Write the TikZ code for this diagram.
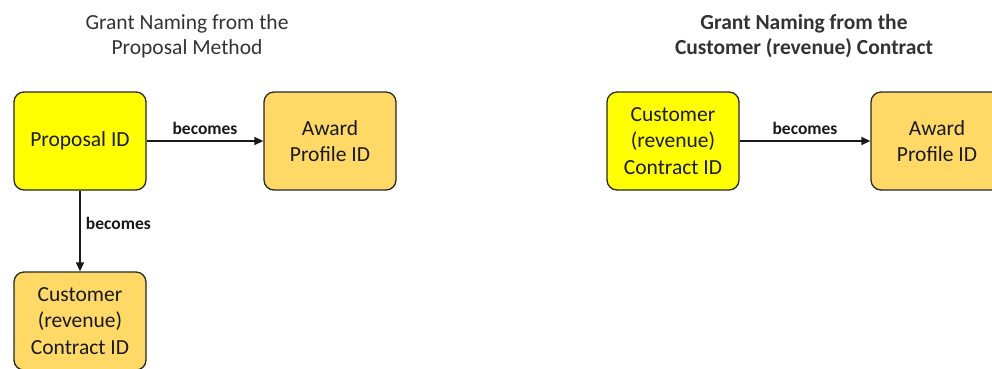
\documentclass[tikz,border=0pt]{standalone}
\usepackage{fontspec}
\setmainfont{Carlito}
\usetikzlibrary{arrows.meta}
\definecolor{boxyellow}{HTML}{FFFF00}
\definecolor{boxorange}{HTML}{FFD966}
\definecolor{titlegray}{HTML}{333333}
\begin{document}
\begin{tikzpicture}[x=1pt,y=-1pt,
  idbox/.style={draw=black!85, line width=1.3pt, rounded corners=10pt,
    minimum width=132pt, minimum height=98pt, align=center, inner sep=2pt,
    font=\fontsize{21.5}{26.5}\selectfont, text=black!90},
  yellowbox/.style={idbox, fill=boxyellow},
  orangebox/.style={idbox, fill=boxorange},
  conn/.style={-{Triangle[length=9pt,width=8pt]}, line width=1.3pt, draw=black!90},
  lbl/.style={font=\fontsize{17.5}{20}\selectfont\bfseries, text=black!90},
  ttl/.style={align=center, font=\fontsize{21.5}{25}\selectfont, text=titlegray}]
\useasboundingbox (0,0) rectangle (992,368);
\clip (0,0) rectangle (992,368);
% left diagram
\node[ttl] (t1) at (187,36) {Grant Naming from the\\Proposal Method};
\node[yellowbox] (p1) at (80,141) {Proposal ID};
\node[orangebox] (a1) at (330,141) {Award\\Profile ID};
\node[orangebox] (c1) at (80,321) {Customer\\(revenue)\\Contract ID};
\draw[conn] (p1) -- node[lbl, above=2pt] (l1) {becomes} (a1);
\draw[conn] (p1) -- node[lbl, right=2pt, pos=0.4] (l2) {becomes} (c1);
% right diagram
\node[ttl, font=\fontsize{21.5}{25}\selectfont\bfseries] (t2) at (804,36) {Grant Naming from the\\Customer (revenue) Contract};
\node[yellowbox] (c2) at (673,141) {Customer\\(revenue)\\Contract ID};
\node[orangebox] (a2) at (937,141) {Award\\Profile ID};
\draw[conn] (c2) -- node[lbl, above=2pt] (l3) {becomes} (a2);
\end{tikzpicture}
\end{document}
